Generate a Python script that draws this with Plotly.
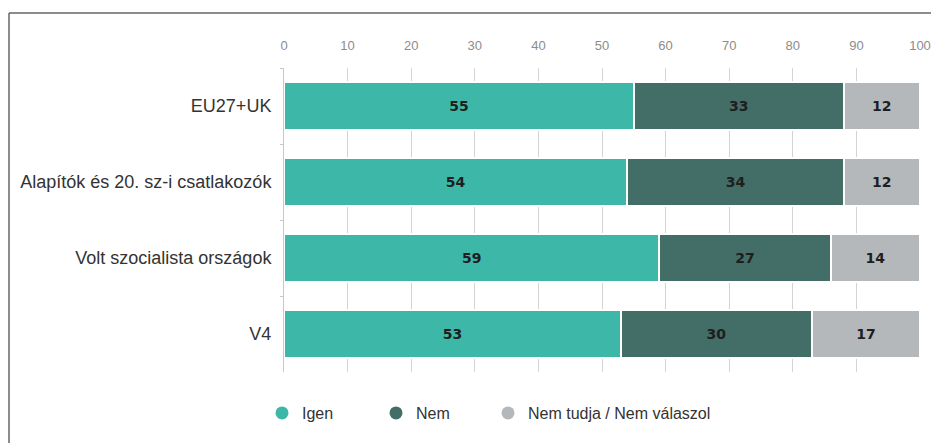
import plotly.graph_objects as go

categories = ["EU27+UK", "Alapítók és 20. sz-i csatlakozók", "Volt szocialista országok", "V4"]
series_names = ["Igen", "Nem", "Nem tudja / Nem válaszol"]
igen = [55, 54, 59, 53]
nem = [33, 34, 27, 30]
nem_tudja = [12, 12, 14, 17]
tick_vals = [0, 10, 20, 30, 40, 50, 60, 70, 80, 90, 100]
colors = ["#3db7a8", "#436d67", "#b5b8bb"]

W, H = 931, 443
L, T, PW, PH = 284, 68, 636, 304

fx = lambda px: (px - L) / PW
fy = lambda py: (T + PH - py) / PH

legend_ids = ["legend", "legend2", "legend3"]
legend_marker_px = [282, 396, 508]

fig = go.Figure()
for name, vals, col, lg in zip(series_names, [igen, nem, nem_tudja], colors, legend_ids):
    fig.add_trace(go.Bar(
        y=categories, x=vals, name=name, orientation="h",
        marker=dict(color=col, line=dict(color="white", width=2)),
        text=[str(v) for v in vals], textposition="inside", insidetextanchor="middle",
        textangle=0,
        textfont=dict(family="DejaVu Sans", size=14, color="#1e1e1e", weight="bold"),
        showlegend=False, hoverinfo="x+y",
    ))
    fig.add_trace(go.Scatter(
        x=[None], y=[None], mode="markers", name=name, legend=lg,
        marker=dict(symbol="circle", size=13, color=col), showlegend=True,
    ))

legend_common = dict(
    orientation="h", xanchor="left", yanchor="middle", y=fy(413),
    font=dict(family="Liberation Sans", size=16, color="#333333"),
    itemclick=False, bgcolor="rgba(0,0,0,0)",
)

fig.update_layout(
    width=W, height=H,
    barmode="stack", bargap=0.38,
    margin=dict(l=L, r=W - L - PW, t=T, b=H - T - PH, pad=0),
    paper_bgcolor="white", plot_bgcolor="white",
    font=dict(family="Liberation Sans", color="#333333"),
    xaxis=dict(
        side="top", range=[0, 100], tickvals=tick_vals,
        showgrid=True, gridcolor="#d3d3d3", gridwidth=1,
        ticks="", ticklabelstandoff=14, automargin=False,
        tickfont=dict(family="Liberation Sans", size=13, color="#8c8c8c"),
        zeroline=False, showline=False, fixedrange=True,
    ),
    yaxis=dict(
        categoryorder="array", categoryarray=categories, autorange="reversed",
        showline=True, linecolor="#c8c8c8", linewidth=1, automargin=False,
        ticks="outside", tickson="boundaries", ticklen=3, tickcolor="#c8c8c8",
        tickfont=dict(family="Liberation Sans", size=18, color="#333333"),
        ticklabelstandoff=8, showgrid=False, fixedrange=True,
    ),
    legend=dict(legend_common, x=fx(legend_marker_px[0] - 20)),
    legend2=dict(legend_common, x=fx(legend_marker_px[1] - 20)),
    legend3=dict(legend_common, x=fx(legend_marker_px[2] - 20)),
    shapes=[
        dict(type="line", xref="paper", yref="paper",
             x0=fx(9), x1=fx(960), y0=fy(13), y1=fy(13),
             line=dict(color="#666666", width=1.5)),
        dict(type="line", xref="paper", yref="paper",
             x0=fx(9), x1=fx(9), y0=fy(13), y1=fy(460),
             line=dict(color="#666666", width=1.5)),
    ],
)

fig.write_html(
    "out.html",
    config={"displayModeBar": False},
    post_script="document.body.style.margin='0';document.body.style.overflow='hidden';",
)
